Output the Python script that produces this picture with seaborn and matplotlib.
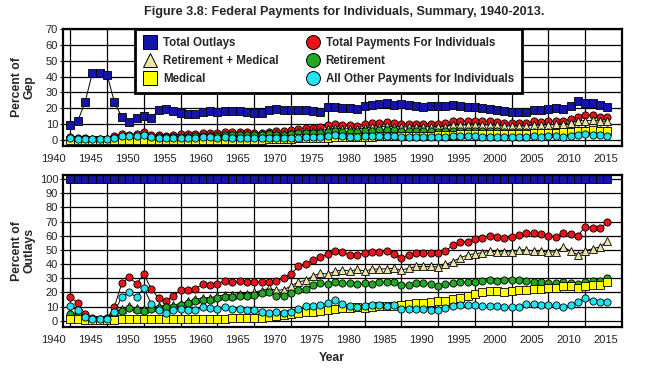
import matplotlib
matplotlib.use("Agg")
import matplotlib.pyplot as plt
from matplotlib.lines import Line2D
from matplotlib.transforms import ScaledTranslation
import seaborn as sns

# ------------------- Data -------------------
years = list(range(1940, 2014))

series_names = [
    "Total Outlays",
    "Retirement + Medical",
    "Medical",
    "Total Payments For Individuals",
    "Retirement",
    "All Other Payments for Individuals",
]

# top panel: percent of GDP
gdp_total_outlays = [
    9.5, 11.8, 23.8, 42.3, 42.4, 41.1, 23.8, 14.5, 11.2, 13.9,
    15.0, 13.9, 18.8, 19.8, 18.2, 16.8, 16.3, 16.5, 17.5, 18.4,
    17.5, 18.2, 18.4, 18.1, 17.9, 16.8, 17.3, 18.9, 19.6, 18.8,
    18.6, 18.7, 18.9, 18.0, 17.8, 20.6, 20.6, 20.0, 20.0, 19.4,
    21.4, 22.2, 22.8, 23.2, 22.2, 22.8, 22.2, 21.4, 21.1, 21.4,
    21.4, 21.4, 22.2, 21.7, 21.1, 20.6, 20.0, 19.4, 19.0, 18.4,
    17.9, 17.5, 17.9, 19.0, 19.0, 19.4, 20.0, 19.4, 21.4, 24.7,
    23.6, 23.6, 22.2, 20.6,
]
gdp_payments = [
    1.6, 1.4, 1.2, 0.8, 0.6, 0.7, 2.4, 3.8, 3.4, 3.6,
    4.9, 3.1, 3.0, 2.8, 3.2, 3.6, 3.5, 3.7, 4.5, 4.6,
    4.6, 5.1, 5.1, 5.0, 4.9, 4.6, 4.7, 5.1, 5.5, 5.7,
    6.1, 7.2, 7.6, 7.7, 8.0, 9.7, 10.1, 9.7, 9.3, 9.0,
    10.2, 10.7, 11.0, 11.4, 10.4, 10.2, 10.2, 10.2, 10.1, 10.2,
    10.2, 10.6, 11.8, 12.0, 11.8, 11.9, 11.7, 11.7, 11.3, 10.8,
    10.6, 10.6, 11.0, 11.7, 11.6, 11.7, 11.9, 12.0, 13.1, 14.8,
    15.7, 15.5, 14.5, 14.3,
]
gdp_ret_med = [
    0.6, 0.6, 0.5, 0.4, 0.4, 0.5, 1.5, 1.2, 1.2, 1.2,
    1.2, 1.3, 1.9, 2.1, 2.0, 2.0, 2.2, 2.4, 2.7, 3.0,
    3.1, 3.3, 3.4, 3.5, 3.5, 3.4, 3.7, 4.3, 4.1, 4.0,
    4.5, 5.1, 5.4, 5.6, 5.9, 6.8, 7.4, 7.1, 7.1, 6.8,
    7.6, 7.9, 8.5, 8.6, 8.4, 8.3, 8.2, 8.4, 8.2, 8.4,
    8.2, 8.5, 9.3, 9.5, 9.5, 9.5, 9.5, 9.5, 9.3, 8.9,
    8.8, 8.8, 8.9, 9.5, 9.4, 9.6, 9.9, 10.1, 10.9, 12.1,
    12.2, 12.5, 11.9, 11.8,
]
gdp_retirement = [
    0.5, 0.5, 0.4, 0.3, 0.3, 0.4, 1.3, 1.0, 1.0, 1.0,
    1.0, 1.1, 1.7, 1.9, 1.8, 1.8, 2.0, 2.2, 2.6, 2.7,
    2.8, 3.0, 3.1, 3.2, 3.2, 3.1, 3.4, 3.8, 3.4, 3.2,
    3.6, 4.1, 4.3, 4.6, 4.7, 5.3, 5.6, 5.3, 5.3, 5.0,
    5.7, 5.8, 6.2, 6.3, 6.0, 5.8, 5.6, 5.7, 5.6, 5.6,
    5.3, 5.5, 5.9, 5.9, 5.7, 5.6, 5.5, 5.5, 5.4, 5.2,
    5.1, 5.0, 5.0, 5.2, 5.1, 5.1, 5.3, 5.3, 5.7, 6.4,
    6.4, 6.5, 6.3, 6.2,
]
gdp_medical = [
    0.1, 0.1, 0.1, 0.1, 0.1, 0.1, 0.2, 0.2, 0.2, 0.2,
    0.2, 0.2, 0.2, 0.2, 0.2, 0.2, 0.2, 0.2, 0.2, 0.3,
    0.3, 0.3, 0.3, 0.3, 0.3, 0.3, 0.3, 0.5, 0.7, 0.8,
    0.9, 1.0, 1.1, 1.1, 1.2, 1.5, 1.8, 1.8, 1.8, 1.8,
    1.9, 2.1, 2.3, 2.3, 2.4, 2.5, 2.6, 2.7, 2.6, 2.8,
    2.9, 3.0, 3.4, 3.6, 3.8, 3.9, 4.0, 4.0, 3.9, 3.7,
    3.7, 3.8, 3.9, 4.3, 4.3, 4.5, 4.6, 4.8, 5.2, 5.7,
    5.8, 6.0, 5.6, 5.6,
]
gdp_other = [
    1.0, 0.8, 0.6, 0.5, 0.5, 0.5, 1.4, 2.4, 2.2, 2.3,
    3.4, 1.7, 1.4, 1.1, 1.4, 1.4, 1.2, 1.2, 1.7, 1.6,
    1.4, 1.7, 1.5, 1.5, 1.4, 1.2, 1.0, 1.0, 1.2, 1.0,
    1.1, 1.5, 1.9, 1.9, 1.9, 2.6, 3.0, 2.4, 2.0, 1.8,
    2.2, 2.4, 2.5, 2.3, 2.5, 1.9, 1.9, 1.8, 1.8, 1.6,
    1.6, 1.9, 2.2, 2.3, 2.3, 2.3, 2.0, 2.0, 1.9, 1.7,
    1.7, 1.6, 2.1, 2.2, 2.1, 2.2, 2.2, 1.8, 2.4, 3.2,
    3.7, 3.3, 2.9, 2.7,
]

# bottom panel: percent of outlays
out_total_outlays = [
    100, 100, 100, 100, 100, 100, 100, 100, 100, 100,
    100, 100, 100, 100, 100, 100, 100, 100, 100, 100,
    100, 100, 100, 100, 100, 100, 100, 100, 100, 100,
    100, 100, 100, 100, 100, 100, 100, 100, 100, 100,
    100, 100, 100, 100, 100, 100, 100, 100, 100, 100,
    100, 100, 100, 100, 100, 100, 100, 100, 100, 100,
    100, 100, 100, 100, 100, 100, 100, 100, 100, 100,
    100, 100, 100, 100,
]
out_payments = [
    17.1, 12.4, 4.9, 1.8, 1.5, 1.7, 10.0, 26.5, 30.8, 26.0,
    32.9, 22.3, 16.0, 14.1, 17.8, 21.4, 21.8, 22.5, 25.8, 25.1,
    26.0, 28.2, 27.5, 27.9, 27.5, 27.5, 27.0, 27.0, 28.0, 30.5,
    33.0, 38.3, 40.0, 42.8, 44.8, 47.0, 49.0, 48.4, 46.5, 46.5,
    47.7, 48.4, 48.4, 49.3, 47.0, 44.6, 46.1, 47.7, 47.7, 47.7,
    47.7, 49.3, 53.1, 55.4, 55.9, 57.7, 58.7, 60.1, 59.4, 58.7,
    59.4, 60.6, 61.7, 61.7, 61.0, 60.1, 59.4, 61.7, 61.0, 60.1,
    66.4, 65.7, 65.3, 69.5,
]
out_ret_med = [
    5.9, 5.0, 1.8, 1.1, 1.1, 1.3, 6.2, 8.2, 10.3, 8.8,
    8.3, 9.7, 10.3, 10.7, 11.2, 12.1, 13.7, 15.0, 16.2, 16.2,
    17.5, 18.2, 18.3, 19.2, 19.2, 20.2, 21.3, 22.8, 21.5, 21.9,
    24.5, 27.4, 28.5, 31.7, 33.6, 32.9, 35.0, 35.9, 35.0, 36.3,
    35.0, 36.3, 36.6, 36.6, 37.1, 35.7, 37.1, 38.3, 38.3, 38.3,
    38.0, 39.7, 41.8, 44.5, 46.3, 47.3, 48.0, 49.0, 48.8, 48.6,
    48.6, 49.8, 50.1, 49.1, 49.1, 48.5, 48.5, 52.3, 49.1, 46.6,
    49.5, 50.8, 52.1, 56.0,
]
out_retirement = [
    4.9, 4.0, 1.5, 0.8, 0.8, 1.0, 5.4, 7.0, 8.9, 7.3,
    6.8, 8.2, 9.0, 9.5, 10.0, 10.8, 12.4, 13.6, 14.8, 14.8,
    16.0, 16.7, 16.7, 17.6, 17.6, 18.5, 19.5, 20.0, 17.5, 17.2,
    19.5, 21.8, 22.5, 25.5, 26.5, 25.8, 27.2, 26.5, 26.5, 25.8,
    26.5, 26.1, 27.2, 27.2, 27.0, 25.4, 25.4, 26.5, 26.5, 26.1,
    24.6, 25.8, 26.5, 27.2, 27.2, 27.2, 27.7, 28.4, 28.2, 28.4,
    28.4, 28.4, 27.7, 27.2, 27.0, 26.5, 26.5, 27.2, 26.5, 25.8,
    27.2, 27.7, 28.2, 30.0,
]
out_medical = [
    1.0, 1.0, 0.3, 0.3, 0.3, 0.3, 0.8, 1.2, 1.4, 1.5,
    1.5, 1.5, 1.3, 1.2, 1.2, 1.3, 1.3, 1.4, 1.4, 1.4,
    1.5, 1.5, 1.6, 1.6, 1.6, 1.7, 1.8, 2.8, 3.5, 4.2,
    5.0, 5.6, 6.0, 6.2, 6.6, 7.3, 8.5, 8.9, 8.9, 9.4,
    8.9, 9.4, 10.1, 10.1, 10.6, 10.8, 11.7, 12.4, 12.4, 13.1,
    13.6, 14.1, 15.3, 16.4, 17.8, 18.8, 20.0, 20.7, 20.7, 20.0,
    20.7, 21.8, 21.8, 22.5, 22.5, 23.0, 23.0, 24.6, 24.2, 23.0,
    24.6, 25.4, 25.4, 27.2,
]
out_other = [
    10.6, 7.3, 2.6, 1.2, 1.2, 1.2, 5.9, 17.1, 20.0, 16.7,
    23.0, 12.0, 7.7, 5.4, 7.7, 8.2, 7.7, 7.7, 9.6, 8.9,
    8.2, 9.6, 8.2, 8.2, 7.7, 7.3, 5.9, 5.4, 5.9, 5.4,
    6.0, 8.0, 10.1, 10.6, 10.8, 12.6, 14.4, 11.9, 10.1, 9.4,
    10.1, 10.8, 10.8, 10.1, 11.3, 8.5, 8.5, 8.5, 8.5, 7.7,
    7.7, 8.9, 10.1, 10.8, 10.8, 11.3, 10.1, 10.1, 10.1, 9.4,
    9.4, 9.4, 11.7, 11.7, 11.3, 11.3, 10.8, 9.4, 11.3, 12.9,
    15.8, 14.1, 12.9, 12.9,
]

top_series = {
    "Total Outlays": gdp_total_outlays,
    "Total Payments For Individuals": gdp_payments,
    "Retirement + Medical": gdp_ret_med,
    "Retirement": gdp_retirement,
    "Medical": gdp_medical,
    "All Other Payments for Individuals": gdp_other,
}
bottom_series = {
    "Total Outlays": out_total_outlays,
    "Total Payments For Individuals": out_payments,
    "Retirement + Medical": out_ret_med,
    "Retirement": out_retirement,
    "Medical": out_medical,
    "All Other Payments for Individuals": out_other,
}

# ------------------- Styles -------------------
styles = {
    "Total Outlays": ("s", "#1414A8"),
    "Total Payments For Individuals": ("o", "#E8141A"),
    "Retirement + Medical": ("^", "#EEE4A4"),
    "Retirement": ("o", "#22A822"),
    "Medical": ("s", "#FFFF00"),
    "All Other Payments for Individuals": ("o", "#22E4F0"),
}
draw_order = [
    "Total Outlays",
    "Total Payments For Individuals",
    "Retirement + Medical",
    "Retirement",
    "Medical",
    "All Other Payments for Individuals",
]

sns.set_theme(style="white")
plt.rcParams["font.family"] = ["Liberation Sans", "DejaVu Sans"]

fig = plt.figure(figsize=(6.58, 3.70), dpi=100)
fig.patch.set_facecolor("white")
ax_top = fig.add_axes([0.0957, 0.6054, 0.8496, 0.3162])
ax_bot = fig.add_axes([0.0957, 0.1162, 0.8496, 0.4108])


def draw_panel(ax, series, ylim, yticks):
    for name in draw_order:
        marker, color = styles[name]
        sns.lineplot(x=years, y=series[name], ax=ax, color="black", linewidth=0.7,
                     marker=marker, markersize=5.2, markerfacecolor=color,
                     markeredgecolor="black", markeredgewidth=0.6)
    ax.set_xlim(1939, 2015)
    ax.set_ylim(*ylim)
    ax.set_xticks(range(1940, 2016, 5))
    ax.set_yticks(yticks)
    ax.grid(True, color="black", linewidth=0.9)
    ax.set_axisbelow(True)
    for sp in ax.spines.values():
        sp.set_color("black")
        sp.set_linewidth(1.6)
    ax.tick_params(axis="y", which="both", left=True, length=2.5, width=0.8, pad=1,
                   labelsize=8, colors="#222222")
    ax.tick_params(axis="x", length=0, pad=6, labelsize=8, colors="#222222")
    for lab in ax.get_xticklabels():
        lab.set_ha("right")
        lab.set_transform(lab.get_transform() + ScaledTranslation(-3 / 72, 0, fig.dpi_scale_trans))
    ax.set_xlabel("")
    ax.set_ylabel("")


draw_panel(ax_top, top_series, (-3.8, 70), range(0, 71, 10))
draw_panel(ax_bot, bottom_series, (-4.4, 102.8), range(0, 101, 10))

# legend
handles = []
for name in series_names:
    marker, color = styles[name]
    handles.append(Line2D([], [], linestyle="None", marker=marker, markersize=10,
                          markerfacecolor=color, markeredgecolor="black", markeredgewidth=0.7))
leg = ax_top.legend(handles, series_names, ncol=2, loc="upper left",
                    bbox_to_anchor=(0.129, 1.0), borderaxespad=0, frameon=True,
                    fancybox=False, framealpha=1, edgecolor="black",
                    prop={"weight": "bold", "size": 8.3}, labelspacing=0.5,
                    handletextpad=0.5, columnspacing=2.4, borderpad=0.7,
                    handlelength=1.2)
leg.get_frame().set_linewidth(2)
leg.set_zorder(10)

fig.text(0.523, 0.968, "Figure 3.8: Federal Payments for Individuals, Summary, 1940-2013.",
         ha="center", va="center", fontsize=9.1, fontweight="bold")
fig.text(0.035, 0.765, "Percent of\nGep", ha="center", va="center", rotation=90,
         fontsize=8.8, fontweight="bold", linespacing=1.0)
fig.text(0.035, 0.322, "Percent of\nOutlays", ha="center", va="center", rotation=90,
         fontsize=8.8, fontweight="bold", linespacing=1.0)
fig.text(0.504, 0.032, "Year", ha="center", va="center", fontsize=8.8, fontweight="bold")

fig.savefig("out.png", dpi=100, facecolor="white")
